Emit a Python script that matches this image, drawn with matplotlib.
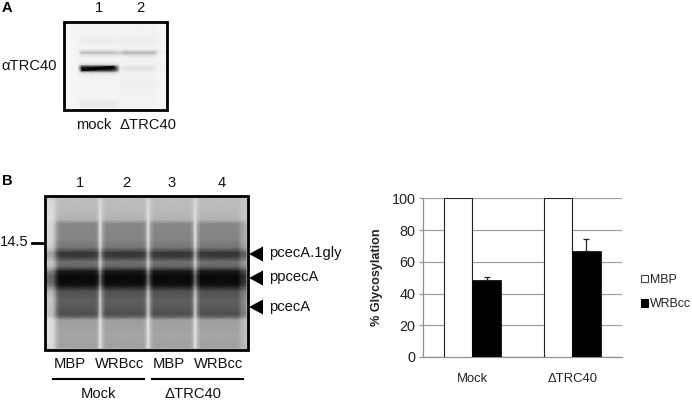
import numpy as np
import matplotlib
matplotlib.use("Agg")
import matplotlib.pyplot as plt
from matplotlib.patches import Rectangle, Polygon

plt.rcParams['font.family'] = ['Liberation Sans', 'DejaVu Sans']

# ---- bar chart data
groups = ["Mock", "ΔTRC40"]
mbp_values = [100, 100]
wrbcc_values = [48.5, 66.5]
wrbcc_errors = [2, 8]
y_ticks = [0, 20, 40, 60, 80, 100]

# ---- gel A: greyscale stops (pixels, darkness 0-255)
a_x = [66, 78, 82, 88, 100, 112, 116, 120, 124, 130, 145, 154, 158, 165]
a_lane1_w = [0, 0, 1, 1, 1, 1, 0.8, 0, 0, 0, 0, 0, 0, 0]
a_lane2_w = [0, 0, 0, 0, 0, 0, 0, 0.6, 1, 1, 1, 1, 0.2, 0]
a_y = [24, 30, 38, 42, 45, 49, 51, 53, 55, 58, 62, 65, 67, 69, 71, 73, 76, 84, 92, 100, 103, 108]
a_lane1_d = [0, 2, 3, 10, 3, 2, 22, 58, 22, 2, 2, 30, 200, 225, 170, 25, 3, 3, 2, 4, 14, 8]
a_lane2_d = [2, 4, 5, 10, 5, 3, 28, 68, 28, 4, 3, 6, 12, 18, 10, 4, 2, 8, 3, 2, 2, 2]
a_base = 10

# ---- gel B: greyscale stops (pixels, grey level 0-255)
b_x = [47, 53, 57, 60, 95, 98, 100, 103, 106, 143, 146, 148, 151, 154, 190, 193, 195, 198, 201, 238, 241, 246]
b_lane_w = [0.05, 0.15, 0.75, 1, 1, 0.75, 0, 0.7, 1, 1, 0.7, 0, 0.7, 1, 1, 0.7, 0, 0.7, 1, 1, 0.75, 0.55]
b_y = [198, 212, 220, 224, 240, 248, 253, 257, 262, 267, 271, 276, 282, 286, 291, 300, 308, 314, 317, 320, 335, 348]
b_lane_g = [190, 185, 178, 135, 132, 115, 52, 60, 112, 100, 30, 10, 10, 22, 78, 95, 88, 78, 100, 158, 165, 160]
b_gap_g = [215, 225, 225, 225, 225, 215, 175, 180, 210, 200, 150, 115, 115, 140, 190, 210, 205, 205, 215, 230, 230, 225]

# ---- annotations
a_band_x = [83, 113]
a_band_y = [69.6, 67.4]
arrow_y = [254, 278, 307]
arrow_labels = ["pcecA.1gly", "ppcecA", "pcecA"]
lane_numbers = ["1", "2", "3", "4"]
lane_number_x = [80, 126, 172, 222]
lane_treat = ["MBP", "WRBcc", "MBP", "WRBcc"]
lane_treat_x = [70, 120, 169, 219]

fig = plt.figure(figsize=(6.92, 4.04), dpi=100, facecolor='white')

px = fig.add_axes([0, 0, 1, 1])
px.set_xlim(0, 692)
px.set_ylim(404, 0)
px.axis('off')

# Gel A
ax_, ay_ = np.array(a_x, float), np.array(a_y, float)
w1, w2 = np.array(a_lane1_w), np.array(a_lane2_w)
d1, d2 = np.array(a_lane1_d, float), np.array(a_lane2_d, float)
za = np.clip(255 - a_base - np.outer(d1, w1) - np.outer(d2, w2), 0, 255)
px.add_patch(Rectangle((64, 22), 103, 88, fc=(0.96, 0.96, 0.96), ec='none', zorder=0))
px.pcolormesh(ax_, ay_, za, shading='gouraud', cmap='gray', vmin=0, vmax=255, zorder=1)
px.plot(a_band_x, a_band_y, color='#080808', lw=2.2, solid_capstyle='round', zorder=2)
px.add_patch(Rectangle((64, 22), 103, 88, fc='none', ec='black', lw=2, zorder=3))

# Gel B
bx, by = np.array(b_x, float), np.array(b_y, float)
wb = np.array(b_lane_w)
zb = np.outer(b_gap_g, 1 - wb) + np.outer(b_lane_g, wb)
px.add_patch(Rectangle((45, 196), 203, 154, fc=(0.75, 0.75, 0.75), ec='none', zorder=0))
px.pcolormesh(bx, by, zb, shading='gouraud', cmap='gray', vmin=0, vmax=255, zorder=1)
px.add_patch(Rectangle((45, 196), 203, 154, fc='none', ec='black', lw=2, zorder=3))

fs = 10.6
txt = dict(ha='center', va='center', fontsize=fs, color='#111111')
px.text(7, 8, "A", fontsize=10.5, fontweight='bold', ha='center', va='center')
px.text(7, 181, "B", fontsize=10.5, fontweight='bold', ha='center', va='center')
px.text(99, 8, "1", **txt)
px.text(140, 8, "2", **txt)
px.text(29, 66, "αTRC40", **txt)
px.text(94, 125, "mock", **txt)
px.text(148, 125, "ΔTRC40", **txt)

for x, s in zip(lane_number_x, lane_numbers):
    px.text(x, 183, s, **txt)
for x, s in zip(lane_treat_x, lane_treat):
    px.text(x, 364, s, **txt)
px.plot([53, 144], [379, 379], color='black', lw=1.5)
px.plot([152, 243], [379, 379], color='black', lw=1.5)
px.text(98, 394, "Mock", **txt)
px.text(193, 394, "ΔTRC40", **txt)

px.text(14, 242, "14.5", **txt)
px.plot([32, 44], [242.5, 242.5], color='black', lw=2)

for y, s in zip(arrow_y, arrow_labels):
    px.add_patch(Polygon([[249, y], [263, y - 7.5], [263, y + 7.5]], fc='black', ec='none', zorder=4))
    px.text(269, y - 0.5, s, ha='left', va='center', fontsize=fs, color='#111111')

# Bar chart
W, H = 692, 404
L, R, T, B = 422.5, 622, 198.3, 357
ax = fig.add_axes([L / W, 1 - B / H, (R - L) / W, (B - T) / H])
ax.patch.set_alpha(0)
xc = np.arange(len(groups))
bw = 0.285
ax.bar(xc - bw / 2, mbp_values, bw, color='white', edgecolor='#222222', lw=0.8, zorder=3)
ax.bar(xc + bw / 2, wrbcc_values, bw, color='black', edgecolor='black', lw=0.5, zorder=3,
       yerr=[[0, 0], wrbcc_errors], ecolor='#222222', error_kw=dict(lw=0.9, capsize=2, capthick=0.9))
ax.set_xlim(-0.5, 1.5)
ax.set_ylim(0, 100)
ax.set_yticks(y_ticks)
ax.set_xticks(xc)
ax.set_xticklabels(groups)
ax.grid(axis='y', color='#a0a0a0', lw=0.9, zorder=0)
ax.set_axisbelow(True)
for s in ('top', 'right'):
    ax.spines[s].set_visible(False)
for s in ('left', 'bottom'):
    ax.spines[s].set_color('#909090')
    ax.spines[s].set_linewidth(0.9)
ax.tick_params(axis='y', length=3, color='#909090', labelsize=10.4, pad=2, labelcolor='#222222')
ax.tick_params(axis='x', length=0, labelsize=9.4, pad=11.5, labelcolor='#222222')
ax.set_ylabel("% Glycosylation", fontsize=9.1, fontweight='bold', labelpad=6, color='#222222')

h1 = Rectangle((0, 0), 1, 1, fc='white', ec='#444444', lw=0.8)
h2 = Rectangle((0, 0), 1, 1, fc='black', ec='black', lw=0.8)
fig.legend([h1, h2], ["MBP", "WRBcc"], loc='center left', bbox_to_anchor=(641 / W, 1 - 292 / H),
           frameon=False, fontsize=8.9, handlelength=0.55, handleheight=0.55, handletextpad=0.2,
           labelspacing=1.0, borderpad=0, borderaxespad=0, labelcolor='#222222')

fig.savefig("out.png", dpi=100, facecolor='white')
